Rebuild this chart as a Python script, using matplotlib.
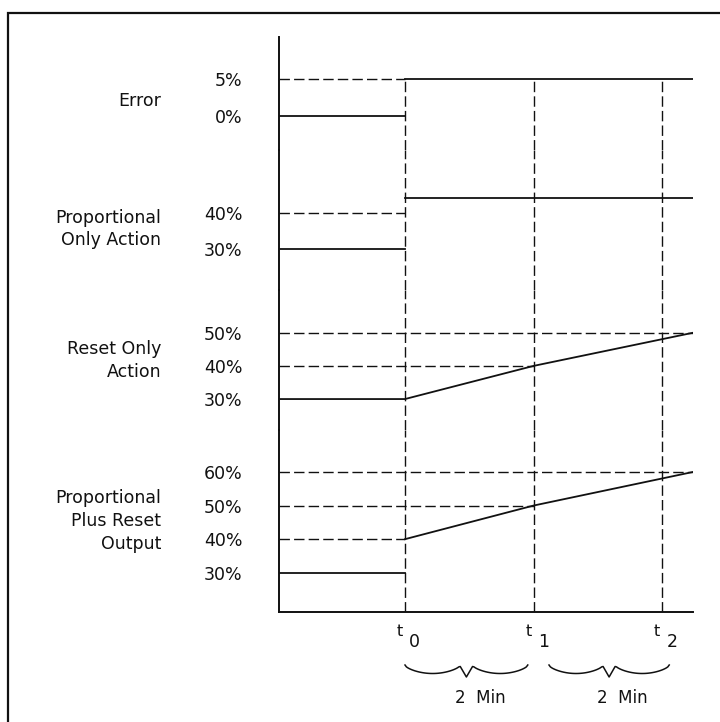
import numpy as np
import matplotlib
matplotlib.use('Agg')
import matplotlib.pyplot as plt
from matplotlib.transforms import blended_transform_factory
from matplotlib.patches import Rectangle

plt.rcParams['font.family'] = ['DejaVu Sans']
plt.rcParams['lines.scale_dashes'] = False

# time axis (minutes after the error step)
t_marks = [0, 2, 4]
t_names = ['0', '1', '2']
t_start, t_end = -1.96, 4.48

# Error
error_ticks = [5, 0]
error_before, error_after = 0, 5
error_guides = [(5, 0)]

# Proportional only action
prop_ticks = [40, 30]
prop_before, prop_after = 30, 44
prop_guides = [(40, 0)]

# Reset only action
reset_ticks = [50, 40, 30]
reset_time = [-2, 0, 2, 4.48]
reset_val = [30, 30, 40, 50]
reset_guides = [(50, t_end), (40, 2)]

# Proportional plus reset output
ppr_ticks = [60, 50, 40, 30]
ppr_before = 30
ppr_time = [0, 2, 4.48]
ppr_val = [40, 50, 60]
ppr_guides = [(60, t_end), (50, 2), (40, 0)]

W, H = 720, 722
fig = plt.figure(figsize=(W / 100, H / 100), dpi=100)

ink = '#111111'
dash = (0, (7.5, 3))
fs = 12.5

# outer frame (left and top edges only show)
fig.add_artist(Rectangle((8 / W, -0.1), 1.2, 1.1 - 13 / H, transform=fig.transFigure,
                         fill=False, lw=1.6, ec=ink, clip_on=False))

x0 = 279 / W
aw = (693 - 279) / W


def make_panel(top, bot, ylim, ticks, name, name_y, last=False):
    ax = fig.add_axes([x0, 1 - bot / H, aw, (bot - top) / H])
    ax.set_xlim(t_start, t_end)
    ax.set_ylim(*ylim)
    for s in ['top', 'right']:
        ax.spines[s].set_visible(False)
    ax.spines['bottom'].set_visible(last)
    ax.spines['left'].set_linewidth(1.4)
    ax.spines['bottom'].set_linewidth(1.4)
    ax.spines['left'].set_color(ink)
    ax.spines['bottom'].set_color(ink)
    ax.set_xticks([])
    ax.set_yticks(ticks)
    ax.set_yticklabels([f'{v}%' for v in ticks])
    ax.tick_params(axis='y', length=0, pad=26.5, labelsize=fs, labelcolor=ink)
    ax.patch.set_visible(False)
    trans = blended_transform_factory(fig.transFigure, ax.transData)
    ax.text(161 / W, name_y, name, transform=trans, ha='right', va='center',
            fontsize=fs, color=ink, linespacing=1.35)
    return ax


def guides(ax, levels):
    for v, xe in levels:
        ax.hlines(v, t_start, xe, colors=ink, lw=1.0, linestyles=dash)


# Error panel
ax1 = make_panel(37, 150, (-4.67, 10.72), error_ticks, 'Error', 2)
guides(ax1, error_guides)
ax1.vlines(t_marks, -4.67, error_after, colors=ink, lw=1.0, linestyles=dash)
ax1.plot([t_start, 0], [error_before] * 2, color=ink, lw=1.3)
ax1.plot([0, t_end], [error_after] * 2, color=ink, lw=1.3)

# Proportional only
ax2 = make_panel(150, 290, (18.7, 57.27), prop_ticks, 'Proportional\nOnly Action', 35.5)
guides(ax2, prop_guides)
ax2.vlines(t_marks, 18.7, 57.27, colors=ink, lw=1.0, linestyles=dash)
ax2.plot([t_start, 0], [prop_before] * 2, color=ink, lw=1.3)
ax2.plot([0, t_end], [prop_after] * 2, color=ink, lw=1.3)

# Reset only
ax3 = make_panel(290, 430, (20.66, 62.9), reset_ticks, 'Reset Only\nAction', 41.5)
guides(ax3, reset_guides)
ax3.vlines(t_marks, 20.66, 62.9, colors=ink, lw=1.0, linestyles=dash)
ax3.plot(reset_time, reset_val, color=ink, lw=1.3)

# Proportional plus reset
ax4 = make_panel(430, 612, (18.32, 72.49), ppr_ticks,
                 'Proportional\nPlus Reset\nOutput', 45.5, last=True)
guides(ax4, ppr_guides)
ax4.vlines(t_marks, 18.32, 72.49, colors=ink, lw=1.0, linestyles=dash)
ax4.plot([t_start, 0], [ppr_before] * 2, color=ink, lw=1.3)
ax4.plot(ppr_time, ppr_val, color=ink, lw=1.3)

# time labels t0, t1, t2
tb = blended_transform_factory(ax4.transData, ax4.transAxes)
for t, n in zip(t_marks, t_names):
    ax4.annotate('t', xy=(t, 0), xycoords=tb, xytext=(-3.8, -14.4),
                 textcoords='offset points', ha='center', va='center',
                 fontsize=fs - 1, color=ink)
    ax4.annotate(n, xy=(t, 0), xycoords=tb, xytext=(7.0, -21.6),
                 textcoords='offset points', ha='center', va='center',
                 fontsize=fs, color=ink)

# braces marking the 2 minute intervals
bt = blended_transform_factory(ax4.transData, fig.transFigure)


def brace(ta, tb_, y_px):
    u = np.linspace(0, 0.45, 40)
    d = 8.5 * np.sin(np.pi * u / 0.45) ** 0.6
    d[-1] = 1.5
    left_u = np.concatenate([u, [0.5]])
    left_d = np.concatenate([d, [12]])
    uu = np.concatenate([left_u, 1 - left_u[::-1][1:]])
    dd = np.concatenate([left_d, left_d[::-1][1:]])
    xs = ta + uu * (tb_ - ta)
    ys = 1 - (y_px + dd) / H
    ax4.plot(xs, ys, transform=bt, color=ink, lw=1.1, clip_on=False)


brace(0.0, 1.91, 665)
brace(2.24, 4.11, 665)
for xm in [1.17, 3.38]:
    ax4.text(xm, 1 - 698 / H, '2  Min', transform=bt, ha='center', va='center',
             fontsize=fs - 0.5, color=ink)

fig.savefig('out.png', dpi=100)
